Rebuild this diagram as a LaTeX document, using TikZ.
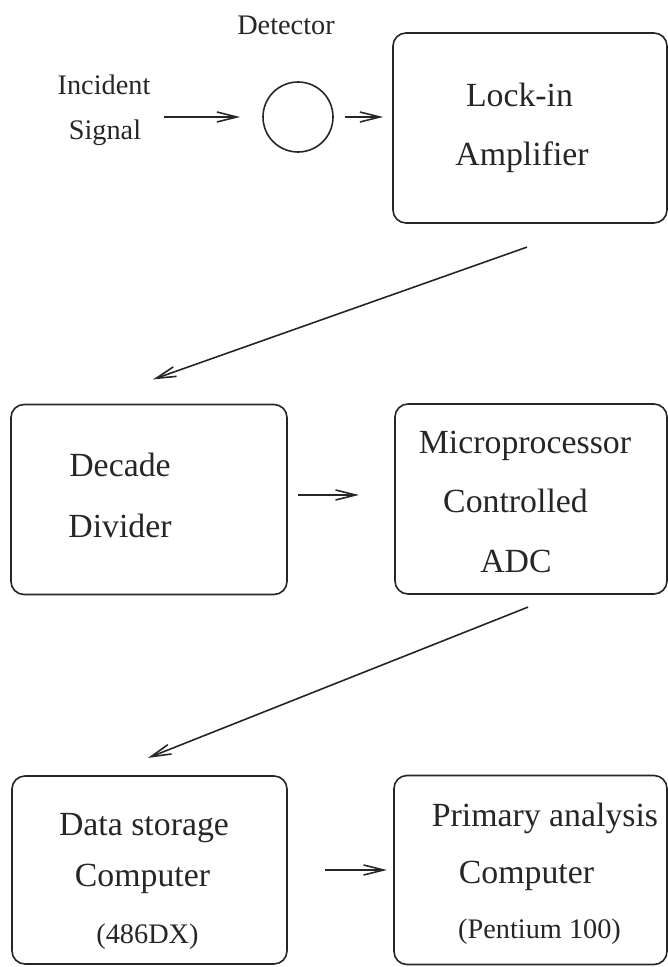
\documentclass[tikz,border=0pt]{standalone}
\usepackage{fontspec}
\setmainfont{Liberation Serif}
\usetikzlibrary{arrows.meta,calc}
\definecolor{ink}{HTML}{262626}
\tikzset{
  box/.style={draw=ink, line width=1.6pt, rounded corners=13pt, minimum width=276pt, minimum height=190pt, inner sep=0pt},
  big/.style={font=\fontsize{33.8}{40}\selectfont, text=ink, anchor=base, inner sep=0pt},
  small/.style={font=\fontsize{28.3}{34}\selectfont, text=ink, anchor=base, inner sep=0pt},
  arr/.style={draw=ink, line width=1.6pt, -{Straight Barb[length=20pt,width=10pt,line width=1.6pt]}},
}
\begin{document}
\begin{tikzpicture}[x=1pt,y=-1pt]
\useasboundingbox (0,0) rectangle (668,967);
% boxes
\node[box, minimum width=274pt] (lock) at (530,128) {};
\node[box] (dec) at (149,499.5) {};
\node[box, minimum width=272pt] (mic) at (531,499) {};
\node[box, minimum width=275pt, minimum height=188pt] (dat) at (149.5,870) {};
\node[box, minimum width=273pt, minimum height=189pt] (pri) at (530.5,870) {};
\node[draw=ink, line width=1.6pt, circle, minimum size=70pt, inner sep=0pt] (det) at (298,117) {};
% texts
\node[small] (tdet) at (286,34) {Detector};
\node[small] (tinc) at (104,94) {Incident};
\node[small] (tsig) at (105,139) {Signal};
\node[big] (tlock) at (519.5,106) {Lock-in};
\node[big] (tamp) at (522,165) {Amplifier};
\node[big] (tdec) at (120,476) {Decade};
\node[big] (tdiv) at (120,537) {Divider};
\node[big] (tmic) at (525,453) {Microprocessor};
\node[big] (tcon) at (515.5,512) {Controlled};
\node[big] (tadc) at (516,572) {ADC};
\node[big] (tdat) at (144,835) {Data storage};
\node[big] (tcom1) at (142.5,886) {Computer};
\node[small] (t486) at (147.5,943) {(486DX)};
\node[big] (tpri) at (545,826) {Primary analysis};
\node[big] (tcom2) at (526.5,883) {Computer};
\node[small] (tpen) at (539.5,938) {(Pentium 100)};
% connectors
\coordinate (a1s) at (164,117);
\draw[arr, shorten >=22pt] (a1s) -- (det.west);
\draw[arr, shorten <=11pt, shorten >=9pt] (det.east) -- (det.east -| lock.west);
\draw[arr] ($(lock.south)+(-3,23.3)$) -- ($(dec.north)+(4,-24.3)$);
\draw[arr] ($(dec.east)+(10.3,-4.5)$) -- ($(mic.west)+(-35.3,-4)$);
\draw[arr] ($(mic.south)+(-3,12.3)$) -- ($(dat.north)+(-1.5,-17.3)$);
\draw[arr] ($(dat.east)+(37.3,0)$) -- ($(pri.west)+(-6.3,0)$);
\end{tikzpicture}
\end{document}
